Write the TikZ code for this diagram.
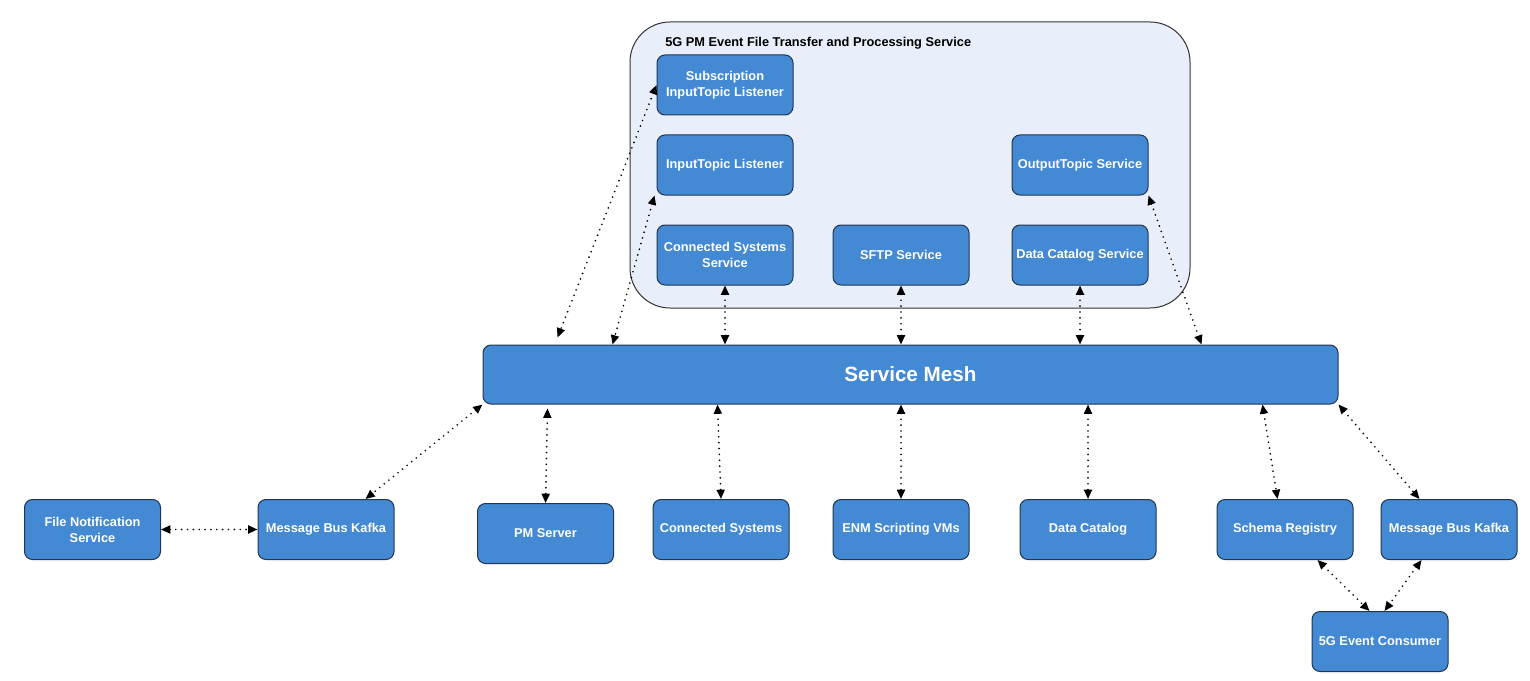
\documentclass[tikz,border=0pt]{standalone}
\usepackage{fontspec}
\setmainfont{Liberation Sans}
\usetikzlibrary{arrows.meta,calc}
\definecolor{boxblue}{HTML}{4389D3}
\definecolor{boxline}{HTML}{22364F}
\definecolor{contfill}{HTML}{E8EEFA}
\definecolor{contline}{HTML}{333333}
\begin{document}
\begin{tikzpicture}[x=0.75pt,y=-0.75pt,
 box/.style={draw=boxline, fill=boxblue, rounded corners=6pt, minimum width=102pt, minimum height=45pt, text=white, font=\bfseries\fontsize{9.6}{12}\selectfont, align=center, inner sep=1pt, line width=0.75pt},
 conn/.style={line width=1.4pt, dash pattern=on 0pt off 4.4pt, line cap=round, {Triangle[length=7pt,width=6pt]}-{Triangle[length=7pt,width=6pt]}},
 container/.style={draw=contline, fill=contfill, rounded corners=30pt, line width=0.75pt, minimum width=420pt, minimum height=214.5pt, inner sep=0pt}]
\fill[white] (0,0) rectangle (1530,681);
\useasboundingbox (0,0) rectangle (1530,681);
\node[container] (cont) at (910,165) {};
\node[anchor=west, font=\bfseries\fontsize{9.6}{11}\selectfont, inner sep=0pt] (title) at (665,43) {5G PM Event File Transfer and Processing Service};
\node[box] (sub) at (725,85) {Subscription\\InputTopic Listener};
\node[box] (itl) at (725,165) {InputTopic Listener};
\node[box] (css) at (725,255) {Connected Systems\\Service};
\node[box] (sftp) at (901,255) {SFTP Service};
\node[box] (dcs) at (1080,255) {Data Catalog Service};
\node[box] (ots) at (1080,165) {OutputTopic Service};
\node[box, minimum width=641.25pt, minimum height=44.25pt, font=\bfseries\fontsize{15.5}{18}\selectfont] (mesh) at (910.5,374.5) {Service Mesh};
\node[box] (fns) at (92.5,529.5) {File Notification\\Service};
\node[box] (kafka1) at (326,529.5) {Message Bus Kafka};
\node[box] (pm) at (545.5,533.5) {PM Server};
\node[box] (cs) at (721,529.5) {Connected Systems};
\node[box] (enm) at (901,529.5) {ENM Scripting VMs};
\node[box] (dc) at (1088,529.5) {Data Catalog};
\node[box] (sr) at (1285,529.5) {Schema Registry};
\node[box] (kafka2) at (1449,529.5) {Message Bus Kafka};
\node[box] (cons) at (1380,641.5) {5G Event Consumer};
% top connectors
\draw[conn] (sub.west) -- ($(mesh.north west)+(75,-7)$);
\draw[conn] ($(itl.south west)+(-2,0)$) -- ($(mesh.north west)+(130,0)$);
\draw[conn] (css.south) -- (css.south |- mesh.north);
\draw[conn] (sftp.south) -- (sftp.south |- mesh.north);
\draw[conn] (dcs.south) -- (dcs.south |- mesh.north);
\draw[conn] (ots.south east) -- ($(mesh.north west)+(719,0)$);
% bottom connectors
\draw[conn] (mesh.south west) -- ($(kafka1.north west)+(108,0)$);
\draw[conn] ($(mesh.south west)+(65,4)$) -- (pm.north);
\draw[conn] ($(mesh.south west)+(235,0)$) -- (cs.north);
\draw[conn] (enm.north |- mesh.south) -- (enm.north);
\draw[conn] (dc.north |- mesh.south) -- (dc.north);
\draw[conn] ($(mesh.south west)+(780,0)$) -- ($(sr.north west)+(61,0)$);
\draw[conn] (mesh.south east) -- ($(kafka2.north west)+(39,0)$);
\draw[conn] (fns.east) -- (kafka1.west);
\draw[conn] ($(sr.south west)+(101,0)$) -- ($(cons.north west)+(58,0)$);
\draw[conn] ($(kafka2.south west)+(41,0)$) -- ($(cons.north west)+(73,0)$);
\end{tikzpicture}
\end{document}
